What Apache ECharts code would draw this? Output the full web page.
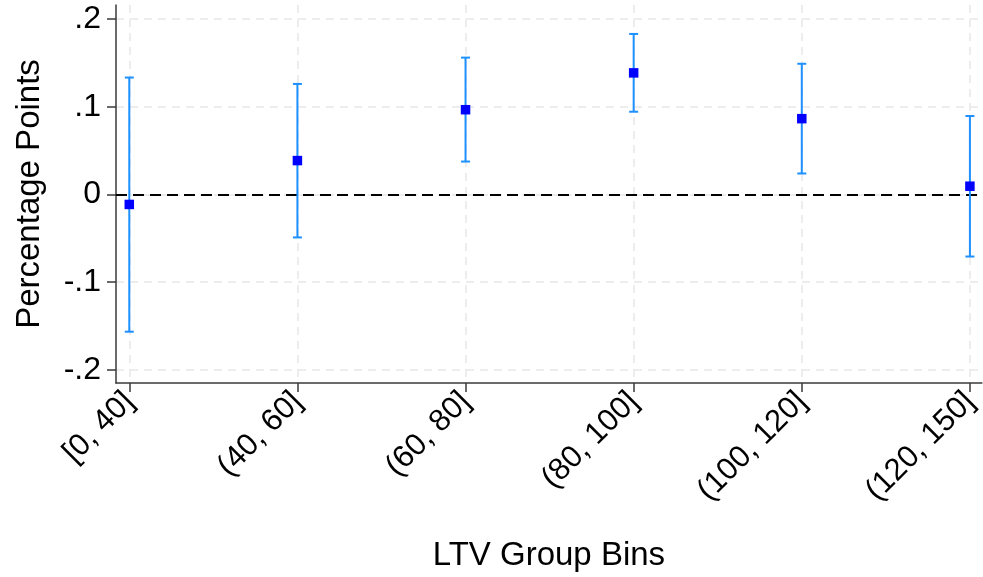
<!DOCTYPE html>
<html>
<head>
<meta charset="utf-8">
<script src="https://cdn.jsdelivr.net/npm/echarts@6/dist/echarts.min.js"></script>
<style>
  html, body { margin: 0; padding: 0; background: #ffffff; }
  #chart { width: 983px; height: 577px; }
</style>
</head>
<body>
<div id="chart"></div>
<script>
// LTV group bins and their point estimates with confidence bounds
const categories = ['[0, 40]', '(40, 60]', '(60, 80]', '(80, 100]', '(100, 120]', '(120, 150]'];
const positions = [1, 2, 3, 4, 5, 6];
const estimates = [-0.0114, 0.0386, 0.0966, 0.1386, 0.0864, 0.0094];
const lowerBounds = [-0.1565, -0.049, 0.0375, 0.0943, 0.0239, -0.0708];
const upperBounds = [0.1333, 0.126, 0.156, 0.183, 0.149, 0.0894];
const yTicks = [-0.2, -0.1, 0, 0.1, 0.2];
const yTickLabels = ['-.2', '-.1', '0', '.1', '.2'];

const FONT = '"Liberation Sans", Arial, sans-serif';
const AXIS_COLOR = '#3a3a3a';
const GRID_COLOR = '#e8e8e8';

const pointData = positions.map((p, i) => [p, estimates[i]]);
const barData = positions.map((p, i) => [p, lowerBounds[i], upperBounds[i]]);

const chart = echarts.init(document.getElementById('chart'), null, { renderer: 'canvas' });

chart.setOption({
  animation: false,
  backgroundColor: '#ffffff',
  grid: { left: 116, right: 1, top: 5, bottom: 194, containLabel: false },
  xAxis: {
    type: 'value',
    min: 0.921,
    max: 6.071,
    name: 'LTV Group Bins',
    nameLocation: 'middle',
    nameGap: 156,
    nameTextStyle: { fontFamily: FONT, fontSize: 33, color: '#000' },
    axisLine: { show: true, onZero: false, lineStyle: { color: AXIS_COLOR, width: 1.5 } },
    axisTick: { show: true, length: 9, customValues: positions, lineStyle: { color: AXIS_COLOR, width: 1.5 } },
    axisLabel: {
      customValues: positions,
      rotate: 45,
      margin: 14,
      fontFamily: FONT,
      fontSize: 31,
      color: '#000',
      formatter: v => categories[Math.round(v) - 1] || ''
    },
    splitLine: { show: true, lineStyle: { color: GRID_COLOR, width: 1.5, type: [8, 6] } }
  },
  yAxis: {
    type: 'value',
    min: -0.215,
    max: 0.216,
    name: 'Percentage Points',
    nameLocation: 'middle',
    nameGap: 70,
    nameTextStyle: { fontFamily: FONT, fontSize: 33, color: '#000' },
    axisLine: { show: true, onZero: false, lineStyle: { color: AXIS_COLOR, width: 1.5 } },
    axisTick: { show: true, length: 9, customValues: yTicks, lineStyle: { color: AXIS_COLOR, width: 1.5 } },
    axisLabel: {
      customValues: yTicks,
      margin: 15,
      fontFamily: FONT,
      fontSize: 32,
      color: '#000',
      formatter: v => {
        const idx = yTicks.findIndex(t => Math.abs(t - v) < 1e-9);
        return idx >= 0 ? yTickLabels[idx] : '';
      }
    },
    splitLine: { show: true, lineStyle: { color: GRID_COLOR, width: 1.5, type: [8, 6] } }
  },
  series: [
    {
      // confidence interval whiskers
      type: 'custom',
      data: barData,
      z: 3,
      renderItem: (params, api) => {
        const x = api.value(0);
        const lo = api.coord([x, api.value(1)]);
        const hi = api.coord([x, api.value(2)]);
        const cap = 4.5;
        const style = { stroke: '#1e90ff', lineWidth: 2 };
        return {
          type: 'group',
          children: [
            { type: 'line', shape: { x1: lo[0], y1: lo[1], x2: hi[0], y2: hi[1] }, style },
            { type: 'line', shape: { x1: hi[0] - cap, y1: hi[1], x2: hi[0] + cap, y2: hi[1] }, style },
            { type: 'line', shape: { x1: lo[0] - cap, y1: lo[1], x2: lo[0] + cap, y2: lo[1] }, style }
          ]
        };
      }
    },
    {
      // point estimates
      type: 'scatter',
      data: pointData,
      symbol: 'rect',
      symbolSize: 9.5,
      z: 4,
      itemStyle: { color: '#0000ff', opacity: 1 },
      markLine: {
        silent: true,
        symbol: 'none',
        label: { show: false },
        lineStyle: { color: '#000', width: 2, type: [11, 6] },
        data: [{ yAxis: 0 }],
        z: 2
      }
    }
  ]
});
</script>
</body>
</html>
